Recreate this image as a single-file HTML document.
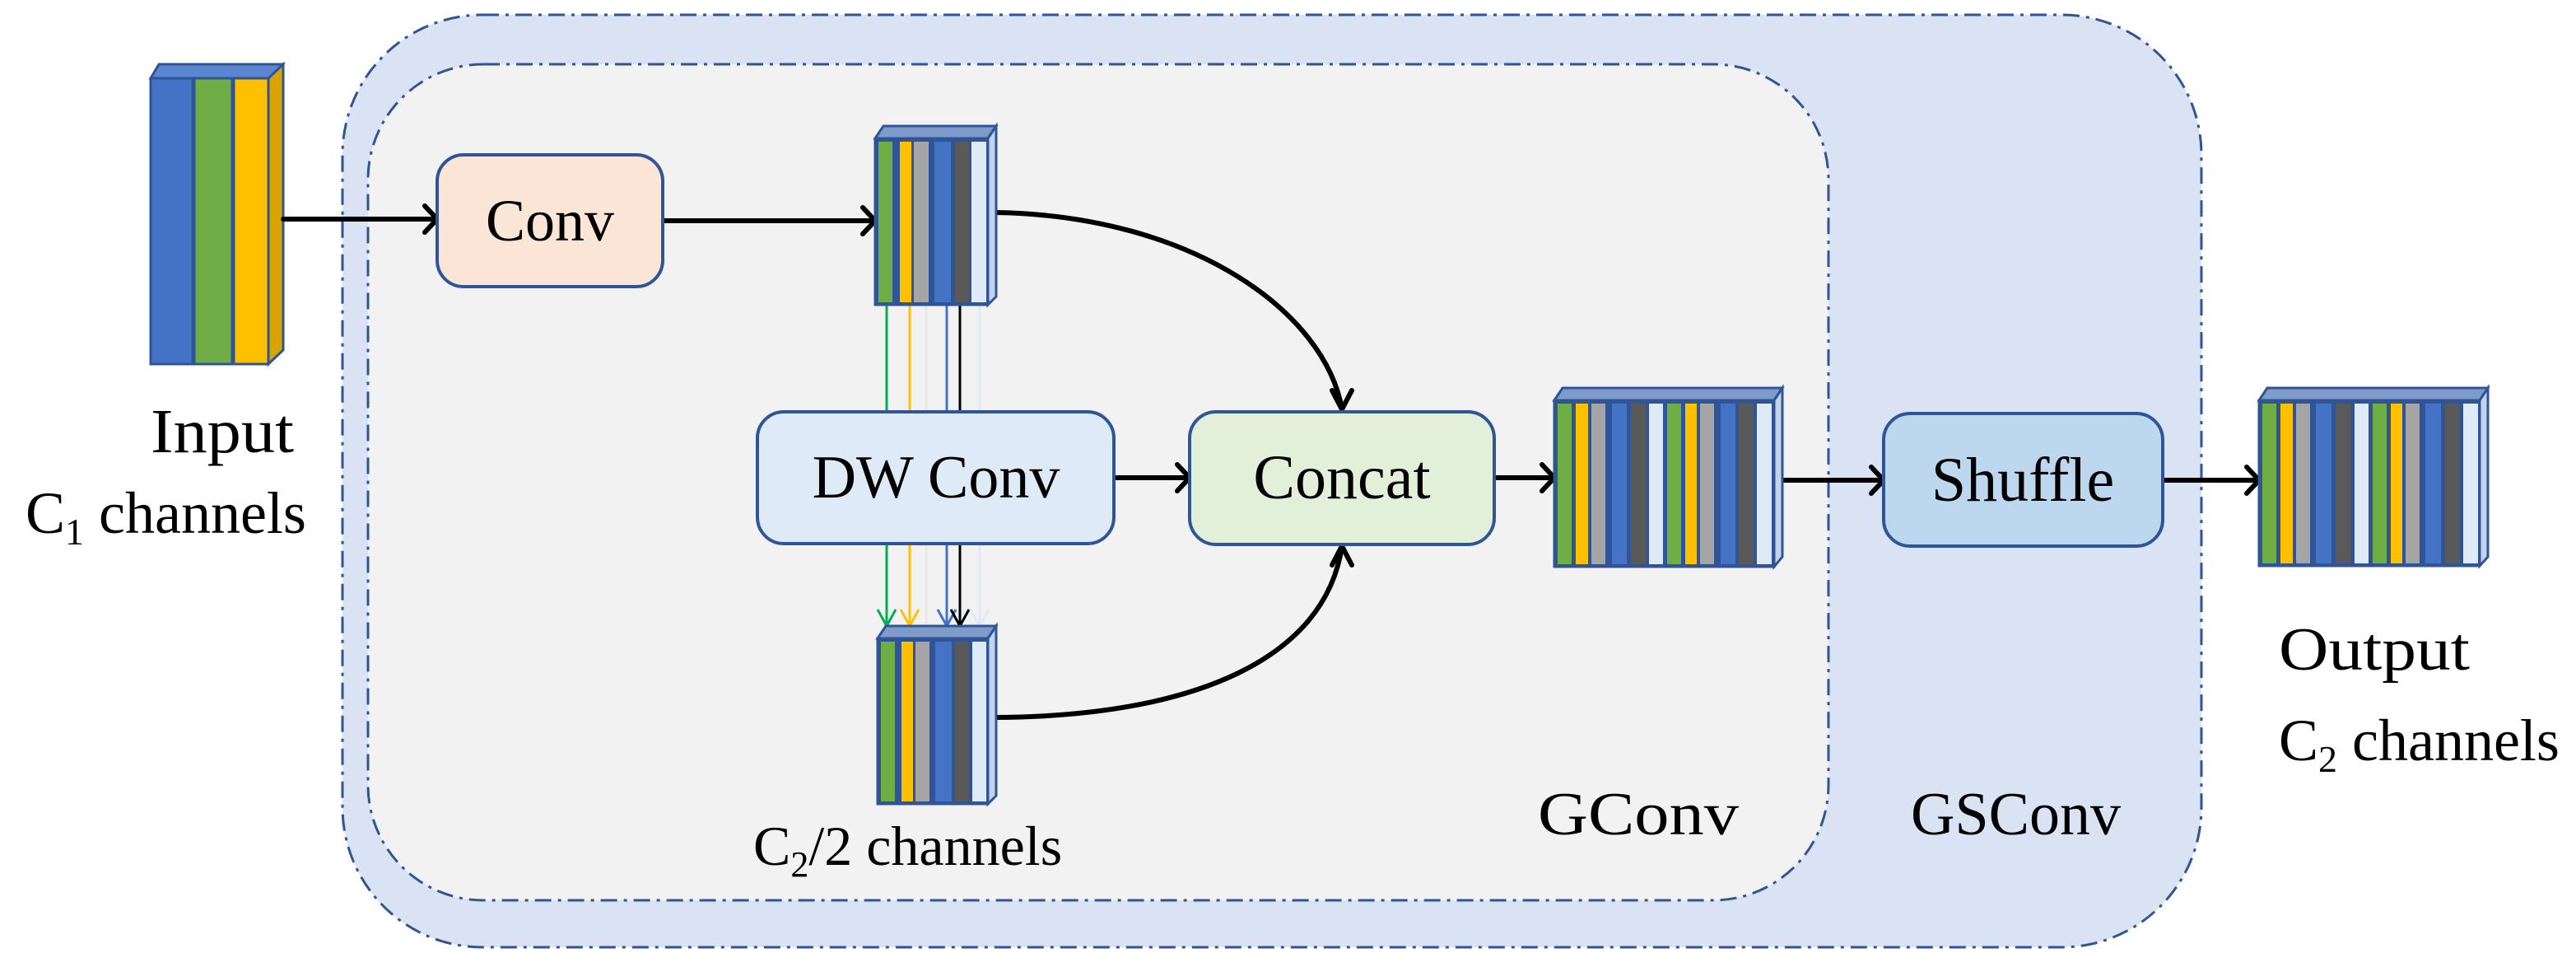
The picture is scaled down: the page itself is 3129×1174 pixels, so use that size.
<!DOCTYPE html>
<html><head><meta charset="utf-8"><style>
html,body{margin:0;padding:0;background:#fff;}
svg{display:block;}
text{font-family:"Liberation Serif",serif;fill:#000;}
</style></head><body>
<svg width="3129" height="1174" viewBox="0 0 3129 1174" xmlns="http://www.w3.org/2000/svg">
<defs>
<marker id="ah" markerWidth="10" markerHeight="10" refX="9" refY="5" orient="auto" markerUnits="userSpaceOnUse" viewBox="0 0 10 10">
</marker>
</defs>
<!-- outer box -->
<rect x="416" y="18" width="2258" height="1132" rx="170" ry="170" fill="#DAE3F3" stroke="#2F5597" stroke-width="3" stroke-dasharray="20 8 4 8"/>
<!-- inner box -->
<rect x="447" y="78" width="1774" height="1015" rx="140" ry="140" fill="#F2F2F2" stroke="#2F5597" stroke-width="3" stroke-dasharray="20 8 4 8"/>

<!-- input bars -->
<g stroke="#2F5597" stroke-width="3">
<polygon points="183,95 193,78 344,78 334,95" fill="#5B85CF"/>
<polygon points="326,95 344,78 344,425 326,442" fill="#D9A300"/>
<rect x="183" y="95" width="51" height="347" fill="#4472C4"/>
<rect x="236" y="95" width="46" height="347" fill="#70AD47"/>
<rect x="284" y="95" width="42" height="347" fill="#FFC000"/>
</g>

<!-- colored vertical lines fm1 -> fm2 -->
<g stroke-width="3" fill="none">
<path d="M1077 370 V760 M1066 740 L1077 760 L1088 740" stroke="#00B050"/>
<path d="M1105 370 V760 M1094 740 L1105 760 L1116 740" stroke="#FFC000"/>
<path d="M1125 370 V760" stroke="#E8E8E8"/>
<path d="M1150 370 V760 M1139 740 L1150 760 L1161 740" stroke="#4472C4"/>
<path d="M1166 370 V760 M1155 740 L1166 760 L1177 740" stroke="#000"/>
<path d="M1190 370 V760 M1179 740 L1190 760 L1201 740" stroke="#DEEBF7"/>
</g>

<!-- arrows -->
<g stroke="#000" stroke-width="6" fill="none" stroke-linecap="round">
<path d="M344 266 H529"/><path d="M516 250 L531 266 L516 282"/>
<path d="M805 268 H1061"/><path d="M1048 252 L1063 268 L1048 284"/>
<path d="M1210 258 C1450 262 1610 380 1630 497"/><path d="M1618 474 L1630 497 L1642 474"/>
<path d="M1208 871 C1450 870 1610 800 1630 663"/><path d="M1618 686 L1630 663 L1642 686"/>
<path d="M1353 580 H1443"/><path d="M1430 564 L1445 580 L1430 596"/>
<path d="M1815 580 H1886"/><path d="M1873 564 L1888 580 L1873 596"/>
<path d="M2165 583 H2286"/><path d="M2273 567 L2288 583 L2273 599"/>
<path d="M2627 583 H2742"/><path d="M2729 567 L2744 583 L2729 599"/>
</g>

<!-- boxes -->
<g stroke="#2F5597" stroke-width="4">
<rect x="531" y="188" width="274" height="160" rx="32" fill="#FBE5D6"/>
<rect x="920" y="500" width="433" height="160" rx="32" fill="#DEEBF7"/>
<rect x="1445" y="500" width="370" height="161" rx="32" fill="#E2F0D9"/>
<rect x="2288" y="502" width="339" height="161" rx="32" fill="#BDD7EE"/>
</g>
<text x="668" y="292" font-size="72" text-anchor="middle">Conv</text>
<text x="1137" y="604" font-size="74" text-anchor="middle">DW Conv</text>
<text x="1630" y="605" font-size="76" text-anchor="middle">Concat</text>
<text x="2457" y="608" font-size="76" text-anchor="middle">Shuffle</text>

<!-- feature map fm1 -->
<g stroke="#2F5597" stroke-width="3">
<polygon points="1063,168 1073,153 1210,153 1200,168" fill="#7F9BC9"/>
<polygon points="1200,168 1210,153 1210,360 1200,370" fill="#C5D3EA"/>
<rect x="1063" y="168" width="137" height="202" fill="#2F5597"/>
</g>
<g stroke="none">
<rect x="1067" y="172" width="17" height="195" fill="#70AD47"/>
<rect x="1093" y="172" width="14" height="195" fill="#FFC000"/>
<rect x="1110" y="172" width="18" height="195" fill="#A5A5A5"/>
<rect x="1135" y="172" width="20" height="195" fill="#4472C4"/>
<rect x="1160" y="172" width="17" height="195" fill="#595959"/>
<rect x="1180" y="172" width="18" height="195" fill="#DEEBF7"/>
</g>

<!-- feature map fm2 -->
<g stroke="#2F5597" stroke-width="3">
<polygon points="1066,775 1076,760 1210,760 1200,775" fill="#7F9BC9"/>
<polygon points="1200,775 1210,760 1210,966 1200,976" fill="#C5D3EA"/>
<rect x="1066" y="775" width="134" height="201" fill="#2F5597"/>
</g>
<g stroke="none">
<rect x="1070" y="779" width="17" height="194" fill="#70AD47"/>
<rect x="1095" y="779" width="14" height="194" fill="#FFC000"/>
<rect x="1112" y="779" width="17" height="194" fill="#A5A5A5"/>
<rect x="1136" y="779" width="20" height="194" fill="#4472C4"/>
<rect x="1160" y="779" width="17" height="194" fill="#595959"/>
<rect x="1181" y="779" width="17" height="194" fill="#DEEBF7"/>
</g>

<!-- concat fm -->
<g stroke="#2F5597" stroke-width="3">
<polygon points="1888,486 1898,471 2165,471 2155,486" fill="#7F9BC9"/>
<polygon points="2155,486 2165,471 2165,676 2155,688" fill="#C5D3EA"/>
<rect x="1888" y="486" width="267" height="202" fill="#2F5597"/>
</g>
<g stroke="none">
<rect x="1892" y="490" width="17" height="195" fill="#70AD47"/>
<rect x="1914" y="490" width="15" height="195" fill="#FFC000"/>
<rect x="1933" y="490" width="17" height="195" fill="#A5A5A5"/>
<rect x="1958" y="490" width="18" height="195" fill="#4472C4"/>
<rect x="1981" y="490" width="18" height="195" fill="#595959"/>
<rect x="2003" y="490" width="17" height="195" fill="#DEEBF7"/>
<rect x="2025" y="490" width="17" height="195" fill="#70AD47"/>
<rect x="2047" y="490" width="14" height="195" fill="#FFC000"/>
<rect x="2065" y="490" width="17" height="195" fill="#A5A5A5"/>
<rect x="2090" y="490" width="18" height="195" fill="#4472C4"/>
<rect x="2112" y="490" width="18" height="195" fill="#595959"/>
<rect x="2134" y="490" width="18" height="195" fill="#DEEBF7"/>
</g>

<!-- output fm -->
<g stroke="#2F5597" stroke-width="3">
<polygon points="2744,486 2754,471 3022,471 3012,486" fill="#7F9BC9"/>
<polygon points="3012,486 3022,471 3022,676 3012,687" fill="#C5D3EA"/>
<rect x="2744" y="486" width="268" height="201" fill="#2F5597"/>
</g>
<g stroke="none">
<rect x="2748" y="490" width="17" height="194" fill="#70AD47"/>
<rect x="2770" y="490" width="15" height="194" fill="#FFC000"/>
<rect x="2789" y="490" width="17" height="194" fill="#A5A5A5"/>
<rect x="2813" y="490" width="19" height="194" fill="#4472C4"/>
<rect x="2837" y="490" width="18" height="194" fill="#595959"/>
<rect x="2860" y="490" width="17" height="194" fill="#DEEBF7"/>
<rect x="2882" y="490" width="17" height="194" fill="#70AD47"/>
<rect x="2904" y="490" width="14" height="194" fill="#FFC000"/>
<rect x="2922" y="490" width="17" height="194" fill="#A5A5A5"/>
<rect x="2946" y="490" width="19" height="194" fill="#4472C4"/>
<rect x="2970" y="490" width="18" height="194" fill="#595959"/>
<rect x="2992" y="490" width="18" height="194" fill="#DEEBF7"/>
</g>

<!-- labels -->
<text x="183" y="549" font-size="76" textLength="174" lengthAdjust="spacingAndGlyphs">Input</text>
<text x="31" y="647" font-size="72">C<tspan font-size="46" dy="14">1</tspan><tspan dy="-14"> channels</tspan></text>
<text x="915" y="1050" font-size="68">C<tspan font-size="44" dy="14">2</tspan><tspan dy="-14">/2 channels</tspan></text>
<text x="1868" y="1013" font-size="74" textLength="244" lengthAdjust="spacingAndGlyphs">GConv</text>
<text x="2321" y="1013" font-size="74">GSConv</text>
<text x="2768" y="813" font-size="74" textLength="232" lengthAdjust="spacingAndGlyphs">Output</text>
<text x="2768" y="923" font-size="72">C<tspan font-size="46" dy="14">2</tspan><tspan dy="-14"> channels</tspan></text>
</svg>
</body></html>
